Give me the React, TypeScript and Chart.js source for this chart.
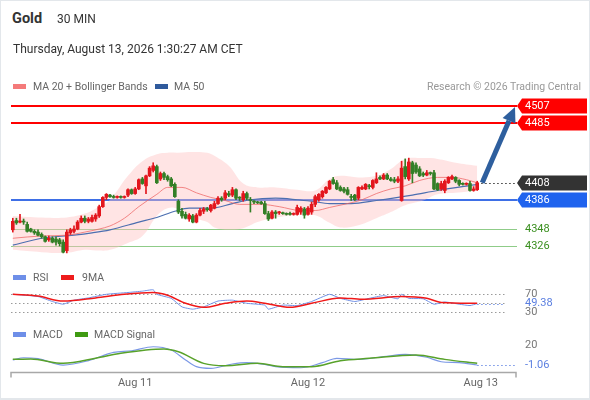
import React, { useEffect, useRef } from "react";
import { Chart, registerables } from "chart.js";

Chart.register(...registerables);

const FONT = "Roboto, 'Liberation Sans', Arial, sans-serif";

// ---------- 30-minute candles ----------
const opens = [4347,4359,4357,4358,4354,4348,4345,4344,4341,4338,
4334,4336,4335,4334,4331,4320,4343,4345,4348,4357,
4362,4358,4358,4361,4365,4377,4389,4392,4390,4389,
4390,4389,4392,4399,4394,4400,4413,4404,4417,4424,
4429,4413,4420,4416,4413,4406,4384,4371,4367,4361,
4365,4357,4366,4371,4374,4372,4375,4381,4388,4388,
4394,4392,4399,4389,4386,4394,4386,4384,4383,4383,
4381,4368,4362,4370,4369,4369,4368,4368,4367,4367,
4370,4374,4367,4370,4380,4386,4390,4395,4400,4412,
4408,4402,4400,4399,4390,4392,4388,4400,4400,4404,
4402,4408,4415,4413,4418,4413,4412,4410,4385,4429,
4413,4434,4431,4426,4420,4418,4421,4421,4407,4400,
4398,4408,4413,4415,4411,4407,4406,4407,4398,4399];
const closes = [4358,4356,4358,4357,4345,4345,4343,4340,4338,4332,
4336,4331,4331,4329,4318,4344,4347,4348,4357,4362,
4358,4361,4363,4366,4377,4389,4393,4390,4389,4390,
4389,4390,4399,4394,4400,4412,4407,4417,4427,4430,
4408,4420,4415,4412,4404,4390,4370,4365,4362,4366,
4357,4366,4372,4374,4373,4379,4381,4388,4386,4395,
4392,4399,4388,4388,4394,4388,4385,4383,4382,4381,
4368,4361,4370,4368,4370,4368,4367,4367,4368,4376,
4375,4366,4375,4380,4390,4393,4397,4402,4410,4407,
4400,4398,4397,4393,4389,4386,4402,4402,4406,4403,
4411,4413,4413,4418,4413,4411,4410,4413,4427,4416,
4435,4420,4422,4417,4418,4421,4420,4400,4399,4407,
4410,4415,4416,4410,4406,4406,4407,4398,4400,4408];
const highs = [4362,4362,4367,4361,4357,4349,4347,4347,4343,4339,
4339,4338,4338,4336,4334,4347,4349,4352,4359,4365,
4365,4363,4366,4368,4379,4390,4394,4393,4392,4391,
4391,4391,4400,4400,4402,4413,4415,4418,4429,4434,
4431,4422,4422,4418,4415,4408,4386,4375,4370,4368,
4367,4368,4375,4376,4376,4380,4384,4390,4390,4398,
4397,4402,4400,4390,4397,4396,4389,4385,4384,4384,
4384,4371,4372,4372,4371,4370,4369,4370,4369,4379,
4377,4376,4377,4383,4392,4394,4398,4403,4411,4415,
4411,4404,4402,4402,4393,4393,4403,4404,4407,4406,
4412,4421,4417,4420,4420,4415,4415,4416,4436,4439,
4440,4436,4434,4429,4422,4424,4422,4424,4408,4410,
4412,4416,4418,4416,4412,4408,4408,4410,4403,4410];
const lows = [4344,4354,4356,4354,4344,4344,4341,4339,4336,4331,
4332,4330,4327,4326,4317,4317,4341,4343,4347,4356,
4356,4356,4357,4358,4363,4376,4386,4389,4388,4388,
4388,4388,4390,4393,4393,4399,4406,4394,4416,4422,
4407,4411,4412,4410,4403,4389,4368,4362,4361,4358,
4356,4356,4365,4368,4371,4370,4374,4380,4384,4386,
4390,4390,4386,4385,4384,4386,4370,4381,4381,4380,
4367,4359,4361,4362,4367,4367,4366,4366,4366,4366,
4367,4362,4366,4367,4377,4384,4388,4394,4399,4406,
4399,4397,4395,4392,4385,4385,4386,4399,4399,4400,
4400,4407,4412,4412,4412,4410,4408,4408,4384,4413,
4411,4408,4420,4416,4416,4417,4418,4399,4398,4398,
4395,4407,4412,4408,4404,4405,4405,4397,4397,4398];

// ---------- overlays (read at candle indices) ----------
const ma20Idx = [0,8,15,20,24,27,31,35,40,43,47,51,55,59,63,69,74,80,84,88,92,97,101,105,109,113,118,122,126,129];
const ma20Val = [4336,4339,4340,4344,4348,4352,4362,4377,4393,4402,4402,4395,4389,4385,4380,4380,4377,4372,4372,4376,4380,4386,4394,4400,4404,4411,4415,4415,4412,4408];
const ma50Idx = [0,8,17,22,27,35,40,45,49,55,61,66,73,79,83,88,94,101,107,111,118,129];
const ma50Val = [4327,4336,4340,4343,4347,4357,4363,4371,4375,4375,4381,4386,4388,4386,4384,4381,4381,4385,4389,4392,4398,4406];
const bandIdx = [0,8,15,20,24,27,32,36,40,43,46,50,54,56,60,64,68,73,79,84,88,91,96,101,105,109,114,118,123,129];
const bandUpper = [4365,4363,4363,4368,4377,4386,4417,4436,4445,4447,4447,4448,4447,4443,4430,4407,4402,4402,4399,4398,4413,4417,4415,4417,4426,4439,4440,4439,4434,4430];
const bandLower = [4321,4318,4317,4321,4320,4321,4330,4339,4365,4375,4374,4363,4357,4350,4347,4349,4357,4363,4366,4366,4356,4350,4353,4362,4370,4379,4385,4393,4395,4398];

// ---------- key levels ----------
const resistanceLevels = [4507, 4485];
const lastPrice = 4408;
const pivotSupport = 4386;
const supportLevels = [4348, 4326];
const targetLevel = 4507;

// ---------- RSI ----------
const rsiIdx = [0,7,11,14,17,21,26,32,36,39,40,44,47,50,53,57,61,65,70,71,75,79,83,88,91,95,99,103,107,108,110,114,117,120,124,127,129];
const rsiVal = [70,65,54,48,57,62,70,74,77,80,70,61,42,37,42,55,57,50,46,37,46,45,54,70,61,54,61,67,60,70,61,60,48,53,48,45,49.38];
const rsiMaIdx = [0,7,14,23,31,39,43,48,53,59,65,70,77,83,91,97,108,115,119,129];
const rsiMaVal = [70,66,55,62,70,74,68,50,41,50,55,50,41,50,62,59,65,61,52,50];
const rsiGrid = [70, 50, 30];
const rsiAxisLabels = [70, 30];
const rsiLast = 49.38;

// ---------- MACD ----------
const macdIdx = [0,3,7,14,21,28,33,39,44,48,51,55,61,65,70,73,80,86,90,96,103,109,115,119,124,129];
const macdVal = [4.2,6.6,5.6,-1.1,3.5,12.3,14,18.2,14.7,4.2,-2.8,-4.6,0,1.4,-0.3,-2.8,-3.9,1.4,6.0,4.9,7.7,10.2,7.1,2.4,1.4,-1.06];
const sigIdx = [0,5,14,23,30,42,46,53,59,68,75,83,91,99,112,120,129];
const sigVal = [4.9,5.3,0.7,6.0,11.3,15.8,12.9,0.7,-1.8,0.7,-2.8,-2.8,3.5,6.0,9.5,4.9,0.7];
const macdAxisLabel = 20;
const macdLast = -1.06;

// ---------- time axis ----------
const xTickIdx = [34, 82, 130];
const xTickLabels = ["Aug 11", "Aug 12", "Aug 13"];

// ---------- ranges / style ----------
const X_MIN = -0.5, X_MAX = 139.5;
const PRICE_MIN = 4310.4, PRICE_MAX = 4520.6;
const RSI_MIN = 19.6, RSI_MAX = 86.2;
const MACD_MIN = -8.4, MACD_MAX = 27.4;
const PAD_L = 11, PAD_R = 75;
const UP = "#e3161d", DOWN = "#337f26";
const LABEL_X = 525;

const pts = (xs: number[], ys: number[]) => xs.map((x, i) => ({ x, y: ys[i] }));

const common: any = {
  responsive: false,
  animation: false,
  devicePixelRatio: 1,
  events: [],
  plugins: { legend: { display: false }, tooltip: { enabled: false } },
};

function tag(ctx: CanvasRenderingContext2D, y: number, color: string, text: string) {
  const x0 = 517, x1 = 522, x2 = 587, h = 15;
  ctx.fillStyle = color;
  ctx.beginPath();
  ctx.moveTo(x0, y);
  ctx.lineTo(x1, y - h / 2);
  ctx.lineTo(x2, y - h / 2);
  ctx.lineTo(x2, y + h / 2);
  ctx.lineTo(x1, y + h / 2);
  ctx.closePath();
  ctx.fill();
  ctx.fillStyle = "#ffffff";
  ctx.font = `11px ${FONT}`;
  ctx.textAlign = "left";
  ctx.textBaseline = "middle";
  ctx.fillText(text, LABEL_X, y + 0.5);
}

const mainDecor = {
  id: "mainDecor",
  beforeDatasetsDraw(chart: any) {
    const { ctx, chartArea: a, scales } = chart;
    const y = scales.y;
    ctx.save();
    const hline = (v: number, color: string, w: number) => {
      let py = y.getPixelForValue(v);
      py = w % 2 === 1 ? Math.round(py) + 0.5 : Math.round(py);
      ctx.strokeStyle = color;
      ctx.lineWidth = w;
      ctx.beginPath();
      ctx.moveTo(a.left, py);
      ctx.lineTo(517, py);
      ctx.stroke();
    };
    resistanceLevels.forEach((v) => hline(v, "#ff0000", 2));
    hline(pivotSupport, "#3e6fe6", 2);
    supportLevels.forEach((v) => hline(v, "#8fcc88", 1));
    ctx.restore();
  },
  afterDatasetsDraw(chart: any) {
    const { ctx, chartArea: a, scales } = chart;
    const x = scales.x, y = scales.y;
    ctx.save();
    // dotted last price extension
    const lastX = x.getPixelForValue(closes.length - 1);
    const ly = Math.round(y.getPixelForValue(lastPrice)) + 0.5;
    ctx.strokeStyle = "#333";
    ctx.lineWidth = 1;
    ctx.setLineDash([1.5, 2.5]);
    ctx.beginPath();
    ctx.moveTo(lastX + 4, ly);
    ctx.lineTo(517, ly);
    ctx.stroke();
    ctx.setLineDash([]);
    // arrow to target
    const sx = lastX + 5, sy = y.getPixelForValue(lastPrice);
    const tx = a.right, ty = y.getPixelForValue(targetLevel) + 0.5;
    const dx = tx - sx, dy = ty - sy;
    const len = Math.hypot(dx, dy);
    const ux = dx / len, uy = dy / len;
    const bx = tx - ux * 15, by = ty - uy * 15;
    ctx.strokeStyle = "#2e5f9e";
    ctx.fillStyle = "#2e5f9e";
    ctx.lineWidth = 5;
    ctx.beginPath();
    ctx.moveTo(sx, sy);
    ctx.lineTo(bx, by);
    ctx.stroke();
    ctx.beginPath();
    ctx.moveTo(tx, ty);
    ctx.lineTo(bx - uy * 7, by + ux * 7);
    ctx.lineTo(bx + uy * 7, by - ux * 7);
    ctx.closePath();
    ctx.fill();
    // labels
    resistanceLevels.forEach((v) => tag(ctx, Math.round(y.getPixelForValue(v)), "#ff0000", String(v)));
    tag(ctx, Math.round(y.getPixelForValue(lastPrice)), "#333333", String(lastPrice));
    tag(ctx, Math.round(y.getPixelForValue(pivotSupport)), "#1f63ee", String(pivotSupport));
    ctx.fillStyle = "#3a8f1f";
    ctx.font = `11px ${FONT}`;
    ctx.textAlign = "left";
    ctx.textBaseline = "middle";
    supportLevels.forEach((v) => ctx.fillText(String(v), LABEL_X, Math.round(y.getPixelForValue(v)) + 0.5));
    ctx.restore();
  },
};

const rsiDecor = {
  id: "rsiDecor",
  beforeDatasetsDraw(chart: any) {
    const { ctx, chartArea: a, scales } = chart;
    ctx.save();
    ctx.strokeStyle = "#9a9a9a";
    ctx.lineWidth = 1;
    ctx.setLineDash([1.5, 2.5]);
    rsiGrid.forEach((v) => {
      const py = Math.round(scales.y.getPixelForValue(v)) + 0.5;
      ctx.beginPath();
      ctx.moveTo(a.left, py);
      ctx.lineTo(505, py);
      ctx.stroke();
    });
    ctx.restore();
  },
  afterDatasetsDraw(chart: any) {
    const { ctx, chartArea: a, scales } = chart;
    const x = scales.x, y = scales.y;
    ctx.save();
    const lx = x.getPixelForValue(rsiIdx[rsiIdx.length - 1]);
    const py = Math.round(y.getPixelForValue(rsiLast)) + 0.5;
    ctx.strokeStyle = "#6f8fe6";
    ctx.setLineDash([1.5, 2.5]);
    ctx.beginPath();
    ctx.moveTo(lx, py);
    ctx.lineTo(505, py);
    ctx.stroke();
    ctx.setLineDash([]);
    ctx.beginPath();
    ctx.rect(500, 0, 90, a.bottom - 1);
    ctx.clip();
    ctx.font = `11px ${FONT}`;
    ctx.textAlign = "left";
    ctx.textBaseline = "middle";
    ctx.fillStyle = "#777";
    rsiAxisLabels.forEach((v) => ctx.fillText(String(v), LABEL_X, y.getPixelForValue(v)));
    ctx.fillStyle = "#5b7fe0";
    ctx.fillText(rsiLast.toFixed(2), LABEL_X, y.getPixelForValue(rsiLast));
    ctx.restore();
  },
};

const macdDecor = {
  id: "macdDecor",
  afterDatasetsDraw(chart: any) {
    const { ctx, chartArea: a, scales } = chart;
    const x = scales.x, y = scales.y;
    ctx.save();
    const lx = x.getPixelForValue(macdIdx[macdIdx.length - 1]);
    const py = Math.round(y.getPixelForValue(macdLast)) + 0.5;
    ctx.strokeStyle = "#6f8fe6";
    ctx.lineWidth = 1;
    ctx.setLineDash([1.5, 2.5]);
    ctx.beginPath();
    ctx.moveTo(lx, py);
    ctx.lineTo(515, py);
    ctx.stroke();
    ctx.setLineDash([]);
    ctx.font = `11px ${FONT}`;
    ctx.textAlign = "left";
    ctx.textBaseline = "middle";
    ctx.fillStyle = "#777";
    ctx.fillText(String(macdAxisLabel), LABEL_X, y.getPixelForValue(macdAxisLabel));
    ctx.fillStyle = "#5b7fe0";
    ctx.fillText(macdLast.toFixed(2), LABEL_X, y.getPixelForValue(macdLast));
    // time axis line with end ticks
    const by = Math.round(a.bottom) + 0.5;
    ctx.strokeStyle = "#a8a8a8";
    ctx.lineWidth = 1.5;
    ctx.beginPath();
    ctx.moveTo(a.left, by + 5);
    ctx.lineTo(a.left, by);
    ctx.lineTo(a.right + 1, by);
    ctx.lineTo(a.right + 1, by + 5);
    ctx.stroke();
    ctx.restore();
  },
};

function LegendItem({ left, top, color, text, textLeft }: any) {
  return (
    <>
      <div style={{ position: "absolute", left, top: top - 2.5, width: 13, height: 5, background: color }} />
      <div style={{ position: "absolute", left: textLeft, top: top - 6.5, lineHeight: "13px", fontSize: 10.5, color: "#666", whiteSpace: "nowrap" }}>{text}</div>
    </>
  );
}

export default function App() {
  const mainRef = useRef<HTMLCanvasElement>(null);
  const rsiRef = useRef<HTMLCanvasElement>(null);
  const macdRef = useRef<HTMLCanvasElement>(null);

  useEffect(() => {
    const candleColors = opens.map((o, i) => (closes[i] >= o ? UP : DOWN));
    const main = new Chart(mainRef.current as HTMLCanvasElement, {
      type: "bar",
      data: {
        datasets: [
          {
            type: "bar",
            data: opens.map((o, i) => ({ x: i, y: [o, closes[i]] })) as any,
            backgroundColor: candleColors,
            barThickness: 3,
            grouped: false,
            minBarLength: 1,
            borderWidth: 0,
            order: 0,
          } as any,
          {
            type: "bar",
            data: lows.map((l, i) => ({ x: i, y: [l, highs[i]] })) as any,
            backgroundColor: candleColors,
            barThickness: 1,
            grouped: false,
            borderWidth: 0,
            order: 1,
          } as any,
          {
            type: "line",
            data: pts(ma20Idx, ma20Val),
            borderColor: "rgba(238,100,100,0.75)",
            borderWidth: 1,
            pointRadius: 0,
            cubicInterpolationMode: "monotone",
            fill: false,
            order: 2,
          } as any,
          {
            type: "line",
            data: pts(ma50Idx, ma50Val),
            borderColor: "#4d6fb0",
            borderWidth: 1.2,
            pointRadius: 0,
            cubicInterpolationMode: "monotone",
            fill: false,
            order: 3,
          } as any,
          {
            type: "line",
            data: pts(bandIdx, bandUpper),
            borderWidth: 0,
            borderColor: "rgba(0,0,0,0)",
            backgroundColor: "rgba(255,190,190,0.42)",
            pointRadius: 0,
            tension: 0.4,
            fill: "+1",
            order: 4,
          } as any,
          {
            type: "line",
            data: pts(bandIdx, bandLower),
            borderWidth: 0,
            borderColor: "rgba(0,0,0,0)",
            pointRadius: 0,
            tension: 0.4,
            fill: false,
            order: 5,
          } as any,
        ],
      },
      options: {
        ...common,
        layout: { padding: { left: PAD_L, right: PAD_R, top: 6, bottom: 7 } },
        scales: {
          x: { type: "linear", min: X_MIN, max: X_MAX, display: false, offset: false },
          y: { type: "linear", min: PRICE_MIN, max: PRICE_MAX, display: false },
        },
      },
      plugins: [mainDecor],
    });

    const rsi = new Chart(rsiRef.current as HTMLCanvasElement, {
      type: "line",
      data: {
        datasets: [
          { data: pts(rsiMaIdx, rsiMaVal), borderColor: "#f01818", borderWidth: 1.5, pointRadius: 0, cubicInterpolationMode: "monotone", order: 0 } as any,
          { data: pts(rsiIdx, rsiVal), borderColor: "#7191e6", borderWidth: 1, pointRadius: 0, tension: 0.15, order: 1 } as any,
        ],
      },
      options: {
        ...common,
        layout: { padding: { left: PAD_L, right: PAD_R, top: 22, bottom: 8 } },
        scales: {
          x: { type: "linear", min: X_MIN, max: X_MAX, display: false },
          y: { type: "linear", min: RSI_MIN, max: RSI_MAX, display: false },
        },
      },
      plugins: [rsiDecor],
    });

    const macd = new Chart(macdRef.current as HTMLCanvasElement, {
      type: "line",
      data: {
        datasets: [
          { data: pts(sigIdx, sigVal), borderColor: "#58a22a", borderWidth: 1.5, pointRadius: 0, cubicInterpolationMode: "monotone", order: 0 } as any,
          { data: pts(macdIdx, macdVal), borderColor: "#7b98e6", borderWidth: 1.2, pointRadius: 0, cubicInterpolationMode: "monotone", order: 1 } as any,
        ],
      },
      options: {
        ...common,
        layout: { padding: { left: PAD_L, right: PAD_R, top: 13, bottom: 8 } },
        scales: {
          x: {
            type: "linear",
            min: X_MIN,
            max: X_MAX,
            grid: { display: false, drawTicks: false },
            border: { display: false },
            afterBuildTicks: (scale: any) => {
              scale.ticks = xTickIdx.map((v) => ({ value: v }));
            },
            afterFit: (scale: any) => {
              scale.height = 20;
            },
            ticks: {
              autoSkip: false,
              maxRotation: 0,
              padding: 5,
              color: "#666",
              font: { family: FONT, size: 11 },
              callback: (v: any) => {
                const k = xTickIdx.indexOf(Number(v));
                return k >= 0 ? xTickLabels[k] : "";
              },
            },
          },
          y: { type: "linear", min: MACD_MIN, max: MACD_MAX, display: false },
        },
      },
      plugins: [macdDecor],
    });

    return () => {
      main.destroy();
      rsi.destroy();
      macd.destroy();
    };
  }, []);

  return (
    <div style={{ position: "relative", width: 590, height: 400, background: "#fff", overflow: "hidden", fontFamily: FONT }}>
      <style>{"body{margin:0;background:#fff}"}</style>
      <canvas ref={mainRef} width={590} height={175} style={{ position: "absolute", left: 0, top: 90 }} />
      <canvas ref={rsiRef} width={590} height={60} style={{ position: "absolute", left: 0, top: 265 }} />
      <canvas ref={macdRef} width={590} height={75} style={{ position: "absolute", left: 0, top: 325 }} />

      <div style={{ position: "absolute", left: 12, top: 11, lineHeight: "16px", fontSize: 14.5, fontWeight: 700, color: "#333" }}>Gold</div>
      <div style={{ position: "absolute", left: 57, top: 11.5, lineHeight: "14px", fontSize: 12, color: "#333" }}>30 MIN</div>
      <div style={{ position: "absolute", left: 13, top: 41, lineHeight: "16px", fontSize: 12, color: "#333", whiteSpace: "nowrap" }}>
        Thursday, August 13, 2026 1:30:27 AM CET
      </div>

      <LegendItem left={13} top={86} color="#f47a7a" text="MA 20 + Bollinger Bands" textLeft={33} />
      <LegendItem left={155} top={86} color="#2f5a9c" text="MA 50" textLeft={174} />
      <div style={{ position: "absolute", right: 9, top: 79.5, lineHeight: "13px", fontSize: 10.5, color: "#999", whiteSpace: "nowrap" }}>
        Research © 2026 Trading Central
      </div>

      <LegendItem left={13} top={277.5} color="#6e8fe8" text="RSI" textLeft={33} />
      <LegendItem left={61} top={277.5} color="#ee1c1c" text="9MA" textLeft={82} />

      <LegendItem left={13} top={334.5} color="#6e8fe8" text="MACD" textLeft={33} />
      <LegendItem left={75} top={334.5} color="#3f9a12" text="MACD Signal" textLeft={94} />

      <div style={{ position: "absolute", left: 0, top: 0, width: 590, height: 400, boxSizing: "border-box", border: "1px solid #e3e7eb", borderBottomWidth: 2, pointerEvents: "none" }} />
    </div>
  );
}
